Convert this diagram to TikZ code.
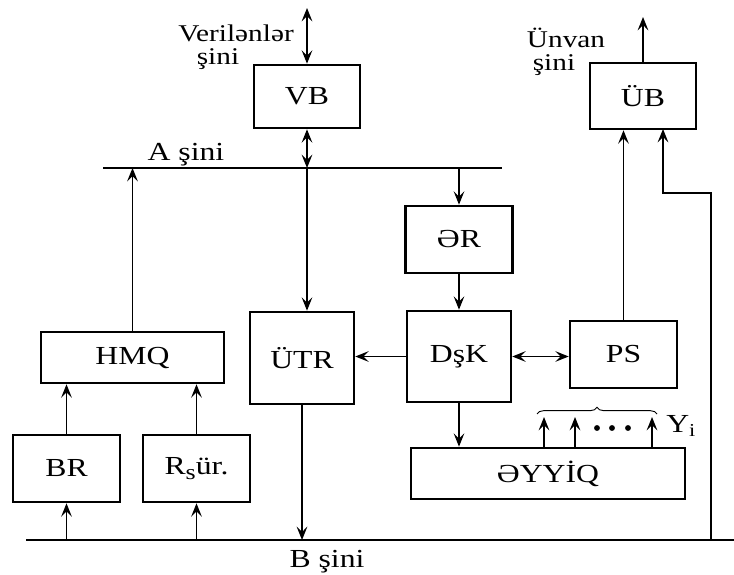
\documentclass[tikz,border=0pt]{standalone}
\usepackage{fontspec}
\setmainfont[FakeStretch=1.22]{Liberation Serif}
\usetikzlibrary{arrows.meta,decorations.pathreplacing}

\begin{document}
\begin{tikzpicture}[x=0.75pt,y=-0.75pt,
  blok/.style={draw,line width=2pt,inner sep=0pt,font=\fontsize{19.5}{23}\selectfont},
  ox/.style={line width=1pt,-{Stealth[length=10pt,width=8pt,inset=4pt]}},
  ikiox/.style={line width=1pt,{Stealth[length=10pt,width=8pt,inset=4pt]}-{Stealth[length=10pt,width=8pt,inset=4pt]}},
  sin/.style={line width=1.1pt},
  yazi/.style={font=\fontsize{19.5}{23}\selectfont,anchor=base,inner sep=0pt},
  basliq/.style={font=\fontsize{18}{17}\selectfont,anchor=north,inner sep=0pt,align=center}]
\useasboundingbox (0,0) rectangle (734,574);
%sinler
\coordinate (Aw) at (103,168);
\coordinate (Ae) at (502,168);
\coordinate (Bw) at (26,540);
\coordinate (Be) at (734,540);
\draw[sin] (Aw)--(Ae);
\draw[sin] (Bw)--(Be);
\node[yazi] (Ayazi) at (186,160) {A şini};
\node[yazi] (Byazi) at (327,567) {B şini};
%bloklar
\node[blok,minimum width=79.5pt,minimum height=47.25pt] (VB) at (307,96.5) {VB};
\node[blok,minimum width=79.5pt,minimum height=49.5pt] (UB) at (643,96) {ÜB};
\node[blok,minimum width=80.25pt,minimum height=50.25pt] (ER) at (459,239.5) {ƏR};
\node[blok,minimum width=78pt,minimum height=69pt] (UTR) at (302,358) {ÜTR};
\node[blok,minimum width=78pt,minimum height=68.25pt] (DK) at (459,356.5) {DşK};
\node[blok,minimum width=80.25pt,minimum height=50.25pt] (PS) at (623.5,354.5) {PS};
\node[blok,minimum width=205.5pt,minimum height=38.25pt] (EY) at (548,473.5) {ƏYYİQ};
\node[blok,minimum width=137.25pt,minimum height=38.25pt] (HMQ) at (132.5,357.5) {HMQ};
\node[blok,minimum width=80.25pt,minimum height=50.25pt] (BR) at (66.5,468.5) {BR};
\node[blok,minimum width=80.25pt,minimum height=50.25pt] (Rs) at (196.5,468.5)
  {R{\fontsize{16}{16}\selectfont\raisebox{-0.45ex}{s}}ür.};
%xarici sinler
\node[basliq] (Vyazi) at (236,25) {Verilənlər\\şini\hspace*{1.5em}};
\node[basliq] (Uyazi) at (566,28) {Ünvan\\şini\hspace*{1em}};
\coordinate (vtop) at (307,8);
\coordinate (utop) at (643,17);
\draw[ikiox] (vtop)--(VB.north);
\draw[ox] (UB.north)--(utop);
%VB ve UTR
\draw[ikiox] (VB.south)--(VB.south |- Aw);
\draw[ox] (VB.south |- Aw)--(VB.south |- UTR.north);
\draw[ox] (UTR.south)--(UTR.south |- Bw);
%ER, DsK, PS
\draw[ox] (ER.north |- Aw)--(ER.north);
\draw[ox] (ER.south)--(DK.north);
\draw[ox] (DK.west)--(DK.west -| UTR.east);
\draw[ikiox] (DK.east)--(DK.east -| PS.west);
\draw[ox] (DK.south)--(DK.south |- EY.north);
\draw[ox] (PS.north)--(PS.north |- UB.south);
\coordinate (dong) at (711,193);
\coordinate (ubin) at (663,129);
\draw[ox] (dong |- Bw)--(dong)-|(ubin);
%HMQ
\draw[ox] (HMQ.north)--(HMQ.north |- Aw);
\draw[ox] (BR.north)--(BR.north |- HMQ.south);
\draw[ox] (Rs.north)--(Rs.north |- HMQ.south);
\draw[ox] (BR.south |- Bw)--(BR.south);
\draw[ox] (Rs.south |- Bw)--(Rs.south);
%Yi
\foreach \x in {544,575,652}
  \draw[ox] (EY.north -| \x,0)--(\x,417);
\foreach \x in {597,612,628}
  \fill (\x,428) circle[radius=2.2pt];
\draw[decorate,decoration={brace,amplitude=5pt},line width=0.7pt] (537,414)--(657,414);
\node[yazi,anchor=base west] (Yi) at (666,432) {Y\textsubscript{i}};
\end{tikzpicture}
\end{document}
